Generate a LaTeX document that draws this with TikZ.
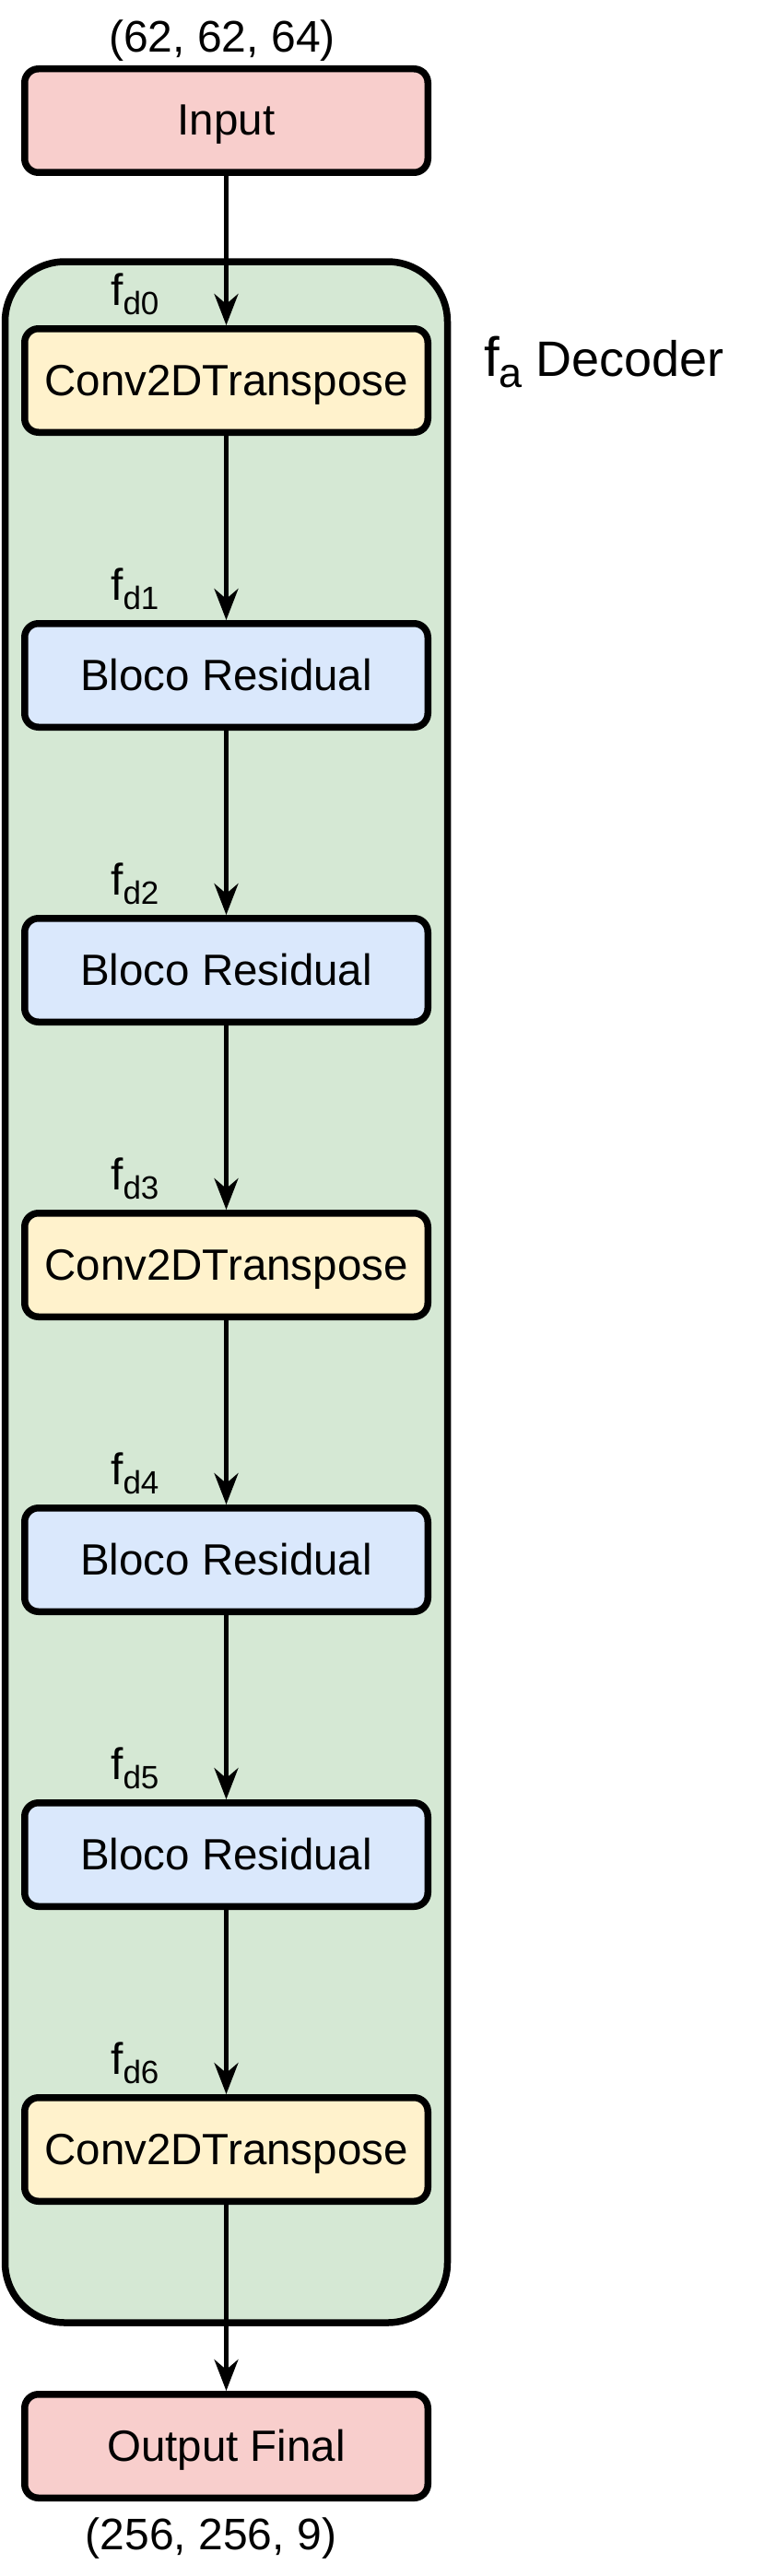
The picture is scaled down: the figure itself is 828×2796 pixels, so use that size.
\documentclass[tikz,border=0pt]{standalone}
\usepackage{fontspec}
\setmainfont{Liberation Sans}
\usetikzlibrary{arrows.meta, positioning}

\definecolor{iored}{HTML}{F8CECC}
\definecolor{convyellow}{HTML}{FFF2CC}
\definecolor{resblue}{HTML}{DAE8FC}
\definecolor{decgreen}{HTML}{D5E8D4}

\newcommand{\fsub}[1]{\raisebox{-10pt}{\fontsize{35}{35}\selectfont #1}}

\begin{document}
\begin{tikzpicture}[x=1pt, y=-1pt,
    block/.style={draw, line width=7.5pt, rounded corners=15pt, minimum width=437.5pt, minimum height=112.5pt, inner sep=0pt, text height=32pt, text depth=0pt, font=\fontsize{47.5}{55}\selectfont},
    flabel/.style={anchor=base west, inner sep=0pt, font=\fontsize{48}{55}\selectfont},
    dims/.style={anchor=base, inner sep=0pt, font=\fontsize{48}{55}\selectfont},
    flow/.style={-{Stealth[length=34pt, width=26pt, inset=11pt]}, line width=4.5pt}]
    \useasboundingbox (0,0) rectangle (828,2796);
    %
    \draw[line width=7.5pt, fill=decgreen, rounded corners=65pt] (5.5,284) rectangle (485.5,2521);
    \node[anchor=base west, inner sep=0pt] (dectitle) at (525,408) {\fontsize{60}{60}\selectfont f\raisebox{-12pt}{\fontsize{45}{45}\selectfont a}\fontsize{54}{60}\selectfont\ Decoder};
    %
    \node[block, fill=iored] (inp) at (245.5,131) {Input};
    \node[dims] (indims) at (241,57) {(62, 62, 64)};
    %
    \node[block, fill=convyellow] (c0) at (245.5,413) {Conv2DTranspose};
    \node[block, fill=resblue, below=200pt of c0] (r1) {Bloco Residual};
    \node[block, fill=resblue, below=200pt of r1] (r2) {Bloco Residual};
    \node[block, fill=convyellow, below=200pt of r2] (c3) {Conv2DTranspose};
    \node[block, fill=resblue, below=200pt of c3] (r4) {Bloco Residual};
    \node[block, fill=resblue, below=200pt of r4] (r5) {Bloco Residual};
    \node[block, fill=convyellow, below=200pt of r5] (c6) {Conv2DTranspose};
    %
    \node[block, fill=iored] (out) at (245.5,2655) {Output Final};
    \node[dims] (outdims) at (229,2767) {(256, 256, 9)};
    %
    \node[flabel] (f0) at ([shift={(-125.5,-22)}]c0.north) {f\fsub{d0}};
    \node[flabel] (f1) at ([shift={(-125.5,-22)}]r1.north) {f\fsub{d1}};
    \node[flabel] (f2) at ([shift={(-125.5,-22)}]r2.north) {f\fsub{d2}};
    \node[flabel] (f3) at ([shift={(-125.5,-22)}]c3.north) {f\fsub{d3}};
    \node[flabel] (f4) at ([shift={(-125.5,-22)}]r4.north) {f\fsub{d4}};
    \node[flabel] (f5) at ([shift={(-125.5,-22)}]r5.north) {f\fsub{d5}};
    \node[flabel] (f6) at ([shift={(-125.5,-22)}]c6.north) {f\fsub{d6}};
    %
    \draw[flow] (inp) -- (c0);
    \draw[flow] (c0) -- (r1);
    \draw[flow] (r1) -- (r2);
    \draw[flow] (r2) -- (c3);
    \draw[flow] (c3) -- (r4);
    \draw[flow] (r4) -- (r5);
    \draw[flow] (r5) -- (c6);
    \draw[flow] (c6) -- (out);
\end{tikzpicture}
\end{document}
